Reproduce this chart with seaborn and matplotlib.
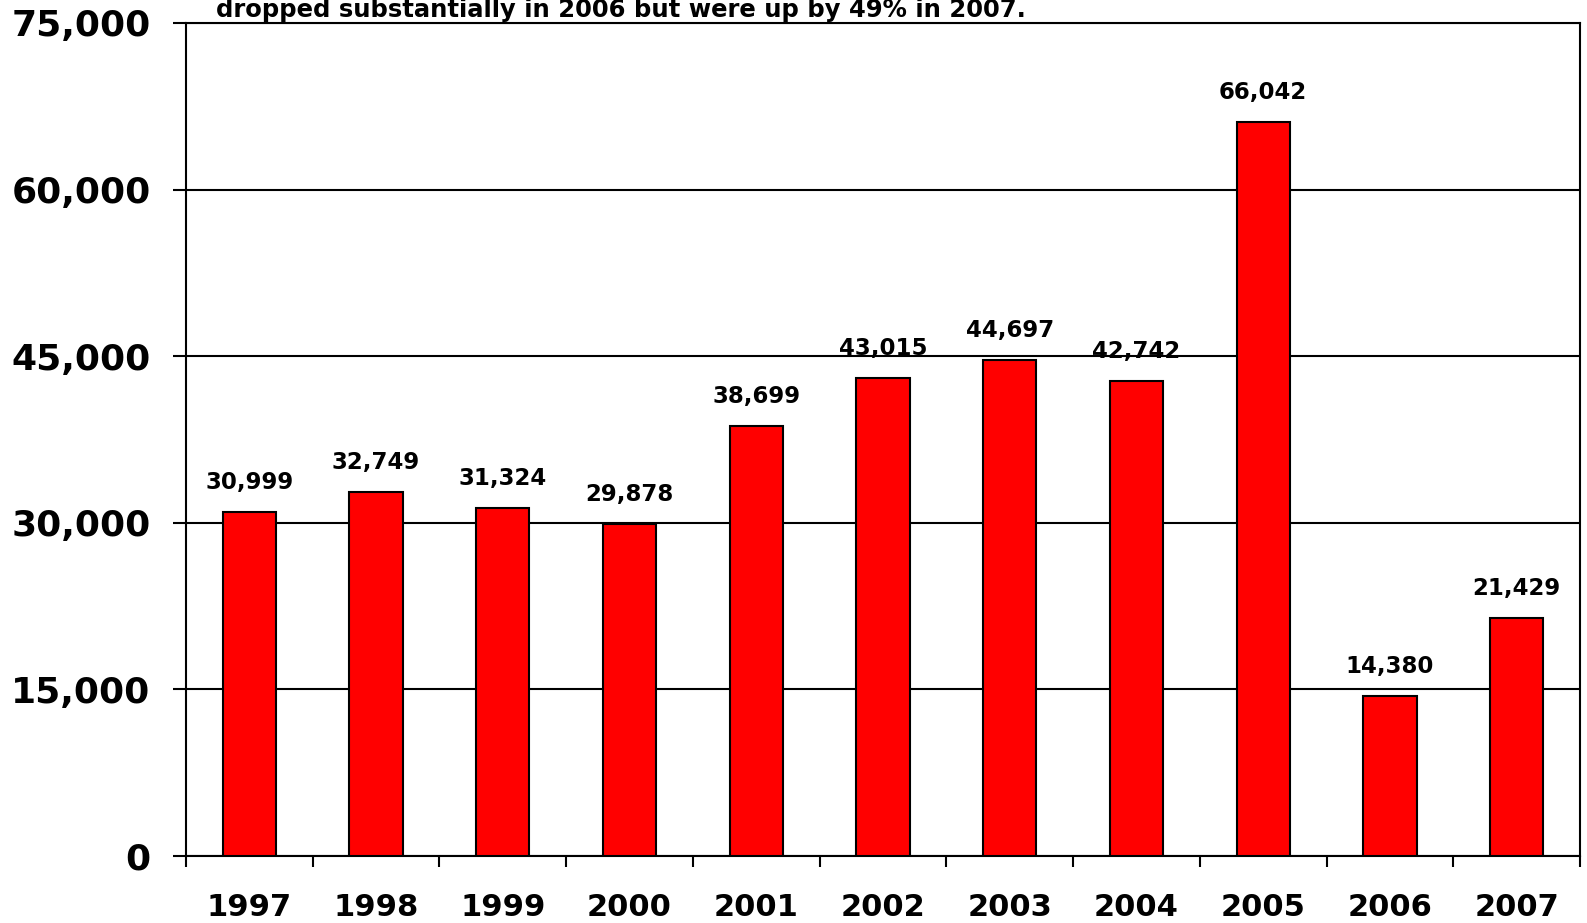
import matplotlib
matplotlib.use('Agg')
from matplotlib import pyplot as plt
from matplotlib.ticker import FuncFormatter, FixedLocator
import seaborn as sns

years = ['1997', '1998', '1999', '2000', '2001', '2002', '2003', '2004', '2005', '2006', '2007']
counts = [30999, 32749, 31324, 29878, 38699, 43015, 44697, 42742, 66042, 14380, 21429]
y_ticks = [0, 15000, 30000, 45000, 60000, 75000]
title_line = 'dropped substantially in 2006 but were up by 49% in 2007.'

sns.set_style('white')
plt.rcParams['font.family'] = ['DejaVu Sans']
plt.rcParams['font.weight'] = 'bold'
plt.rcParams['text.color'] = 'black'
plt.rcParams['xtick.color'] = 'black'
plt.rcParams['ytick.color'] = 'black'

fig = plt.figure(figsize=(15.87, 9.23), dpi=100)
ax = fig.add_axes([186 / 1587, 1 - 856 / 923, (1580 - 186) / 1587, (856 - 23) / 923])

sns.barplot(x=years, y=counts, color='#FF0000', edgecolor='black', linewidth=1.5,
            width=0.42, saturation=1, ax=ax, zorder=3)

ax.set_ylim(0, 75000)
ax.set_xlim(-0.5, len(years) - 0.5)
ax.set_yticks(y_ticks)
ax.yaxis.set_major_formatter(FuncFormatter(lambda v, p: f'{int(v):,}'))
ax.yaxis.grid(True, color='black', linewidth=1.5)
ax.set_axisbelow(True)

# ticks between the bars, labels centred under them
ax.xaxis.set_minor_locator(FixedLocator([i - 0.5 for i in range(len(years) + 1)]))
ax.tick_params(axis='x', which='major', bottom=True, length=0, pad=27, labelsize=22,
               labelcolor='black')
ax.tick_params(axis='x', which='minor', bottom=True, length=8, width=1.5, color='black',
               direction='out')
ax.tick_params(axis='y', left=True, length=9.5, width=1.5, color='black', direction='out',
               pad=16, labelsize=26, labelcolor='black')
for lab in ax.get_xticklabels() + ax.get_yticklabels():
    lab.set_fontweight('bold')

for s in ax.spines.values():
    s.set_visible(True)
    s.set_color('black')
    s.set_linewidth(1.5)

ax.set_xlabel('')
ax.set_ylabel('')

for bars in ax.containers:
    ax.bar_label(bars, labels=[f'{v:,}' for v in counts], padding=13,
                 fontsize=16.5, fontweight='bold', color='black')

fig.text(216 / 1587, 1 - 17 / 923, title_line, ha='left', va='baseline',
         fontsize=17.5, fontweight='bold', color='black')

fig.savefig('out.png', dpi=100, facecolor='white')
